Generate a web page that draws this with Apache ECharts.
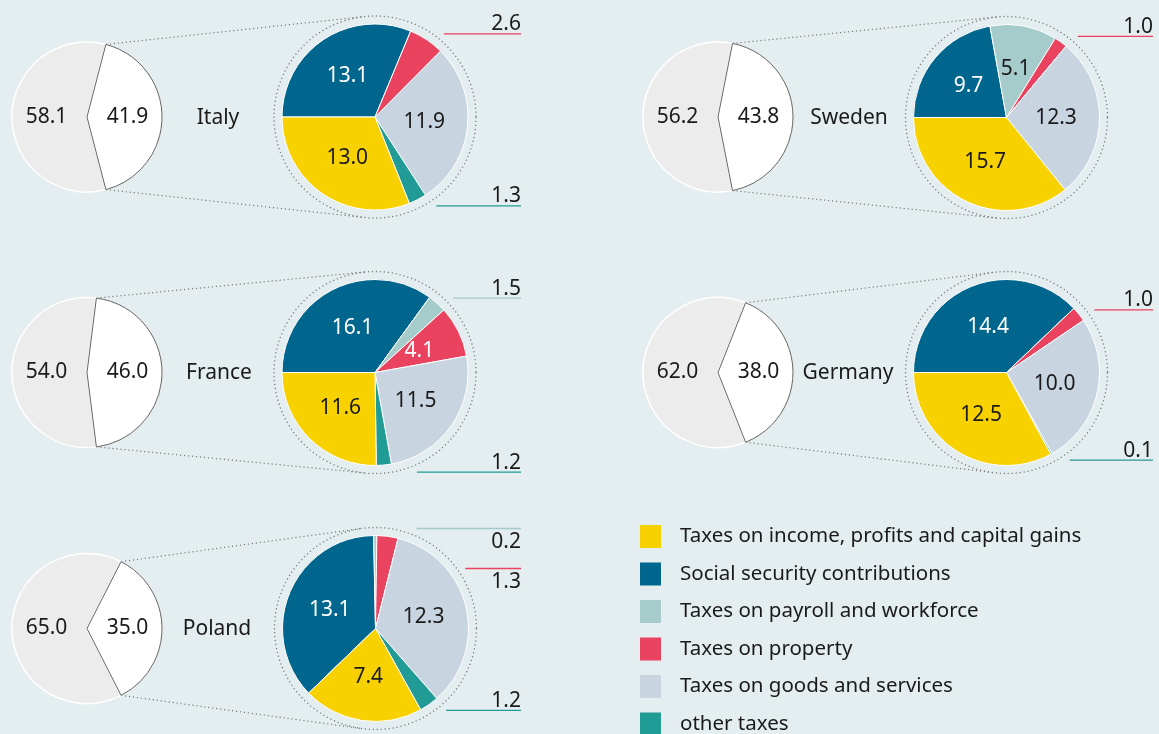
<!DOCTYPE html>
<html>
<head>
<meta charset="utf-8">
<script src="https://cdn.jsdelivr.net/npm/echarts@6/dist/echarts.min.js"></script>
<style>
  html, body { margin: 0; padding: 0; background: #e4edef; }
  #main { width: 1159px; height: 734px; }
</style>
</head>
<body>
<div id="main"></div>
<script>
// tax categories and their colours
var categories = ['Taxes on income, profits and capital gains', 'Social security contributions',
  'Taxes on payroll and workforce', 'Taxes on property', 'Taxes on goods and services', 'other taxes'];
var colors = ['#f8d200', '#00668e', '#a5cbcb', '#ea4360', '#c9d4e1', '#209b96'];

var countries = ['Italy', 'Sweden', 'France', 'Germany', 'Poland'];
// left circles: tax share vs the rest
var taxShare = [41.9, 43.8, 46.0, 38.0, 35.0];
var restShare = [58.1, 56.2, 54.0, 62.0, 65.0];

// breakdown, same order as categories (null = not shown)
var italy = [13.0, 13.1, null, 2.6, 11.9, 1.3];
var sweden = [15.7, 9.7, 5.1, 1.0, 12.3, null];
var france = [11.6, 16.1, 1.5, 4.1, 11.5, 1.2];
var germany = [12.5, 14.4, null, 1.0, 10.0, 0.1];
var poland = [7.4, 13.1, 0.2, 1.3, 12.3, 1.2];
var breakdown = [italy, sweden, france, germany, poland];

var FONT = '"Noto Sans", sans-serif';
var INK = '#1a1a1a';
var order = [1, 2, 3, 4, 5, 0];   // clockwise drawing order
var whiteText = [1, 3];
var SMALL = 3;
var R_LEFT = 75, R_PIE = 93, R_RING = 101, R_TICK = 100, R_LINE = 108;

// where each country group sits
var slots = [
  { left: [87, 117], right: [375, 117], name: 218, edge: 521, start: 180 },
  { left: [718, 117], right: [1006.5, 117.5], name: 849, edge: 1153, start: 180 },
  { left: [87, 372.5], right: [375, 372.5], name: 219, edge: 521, start: 180 },
  { left: [718, 372.5], right: [1006.5, 372.5], name: 848, edge: 1153, start: 180 },
  { left: [87, 628.5], right: [375.5, 628.5], name: 217, edge: 521, start: 224 }
];

var myChart = echarts.init(document.getElementById('main'));
var series = [];
var graphics = [];

function fmt(p) { return Number(p.value).toFixed(1); }

function dotted(x1, y1, x2, y2) {
  return {
    type: 'line', silent: true, z: 1,
    shape: { x1: x1, y1: y1, x2: x2, y2: y2 },
    style: { stroke: '#7a7a7a', lineWidth: 1.2, lineDash: [1.2, 2.8] }
  };
}

countries.forEach(function (name, k) {
  var s = slots[k], vals = breakdown[k];
  var items = [];
  order.forEach(function (ci) {
    if (vals[ci]) items.push({ ci: ci, value: vals[ci] });
  });
  var total = items.reduce(function (a, b) { return a + b.value; }, 0);

  // small slices get a label outside with an underline
  var ext = {}, list = [], cum = 0;
  items.forEach(function (it, i) {
    var mid = (s.start - (cum + it.value / 2) / total * 360) * Math.PI / 180;
    cum += it.value;
    if (it.value < SMALL) {
      var e = { y: s.right[1] - R_TICK * Math.sin(mid), below: false };
      ext[i] = e;
      list.push(e);
    }
  });
  list.sort(function (a, b) { return a.y - b.y; });
  for (var j = 1; j < list.length; j++) {
    if (list[j].y - list[j - 1].y < 30) {
      list[j].y = list[j - 1].y + 40;
      list[j].below = list[j - 1].below = true;
    }
  }

  // left circle
  series.push({
    type: 'pie', silent: true, animation: false,
    center: s.left, radius: R_LEFT,
    startAngle: 180 + restShare[k] * 1.8, clockwise: true,
    avoidLabelOverlap: false,
    emphasis: { disabled: true },
    label: { show: true, position: 'inner', formatter: fmt, fontSize: 21, color: INK, fontFamily: FONT },
    labelLine: { show: false },
    data: [
      { name: 'rest', value: restShare[k], itemStyle: { color: '#ececec', borderColor: '#fff', borderWidth: 1.5 } },
      { name: 'tax', value: taxShare[k], itemStyle: { color: '#fff', borderColor: '#666', borderWidth: 1 } }
    ]
  });

  // breakdown pie
  series.push({
    type: 'pie', animation: false,
    center: s.right, radius: R_PIE,
    startAngle: s.start, clockwise: true,
    avoidLabelOverlap: false,
    emphasis: { disabled: true },
    itemStyle: { borderColor: '#fff', borderWidth: 1 },
    label: { show: true, formatter: fmt, fontSize: 21, fontFamily: FONT },
    labelLayout: function (p) {
      var e = ext[p.dataIndex];
      if (!e) return {};
      var dy = e.y - s.right[1];
      var x0 = s.right[0] + Math.sqrt(Math.max(R_LINE * R_LINE - dy * dy, 0));
      return {
        x: s.edge,
        y: e.below ? e.y + 3 : e.y + 1,
        align: 'right',
        verticalAlign: e.below ? 'top' : 'bottom',
        labelLinePoints: [[x0, e.y], [x0 + 1, e.y], [s.edge, e.y]]
      };
    },
    data: items.map(function (it) {
      var small = it.value < SMALL;
      return {
        name: categories[it.ci],
        value: it.value,
        itemStyle: { color: colors[it.ci] },
        label: small
          ? { position: 'outside', color: INK }
          : { position: 'inside', color: whiteText.indexOf(it.ci) >= 0 ? '#fff' : INK },
        labelLine: { show: small, length: 4, length2: 4, lineStyle: { color: colors[it.ci], width: 1.3 } }
      };
    })
  });

  // dotted ring
  graphics.push({
    type: 'circle', silent: true, z: 1,
    shape: { cx: s.right[0], cy: s.right[1], r: R_RING },
    style: { fill: 'none', stroke: '#7a7a7a', lineWidth: 1.3, lineDash: [1.2, 2.8] }
  });

  // connectors from the tax slice to the ring (tangent lines)
  var h = taxShare[k] / 100 * Math.PI;
  [1, -1].forEach(function (sg) {
    var px = s.left[0] + R_LEFT * Math.cos(h);
    var py = s.left[1] - sg * R_LEFT * Math.sin(h);
    var vx = px - s.right[0], vy = -(py - s.right[1]);
    var d = Math.sqrt(vx * vx + vy * vy);
    var phi = Math.atan2(vy, vx);
    var th = phi - sg * Math.acos(R_RING / d);
    graphics.push(dotted(px, py, s.right[0] + R_RING * Math.cos(th), s.right[1] - R_RING * Math.sin(th)));
  });

  // country name
  graphics.push({
    type: 'text', silent: true,
    x: s.name, y: s.left[1] + 1,
    style: {
      text: name, fontSize: 21, fontFamily: FONT, fill: INK,
      align: 'center', verticalAlign: 'middle', textAlign: 'center', textVerticalAlign: 'middle'
    }
  });
});

var option = {
  backgroundColor: '#e4edef',
  animation: false,
  textStyle: { fontFamily: FONT },
  legend: {
    data: categories,
    orient: 'vertical',
    left: 640, top: 525,
    height: 260,
    padding: 0,
    itemWidth: 21, itemHeight: 23, itemGap: 14.5,
    icon: 'rect',
    selectedMode: false,
    itemStyle: { borderWidth: 0 },
    textStyle: { fontSize: 20.5, color: INK, fontFamily: FONT, padding: [0, 0, 0, 14] }
  },
  graphic: { elements: graphics },
  series: series
};

myChart.setOption(option);

window.onresize = () => {
  myChart.resize()
}
</script>
</body>
</html>
